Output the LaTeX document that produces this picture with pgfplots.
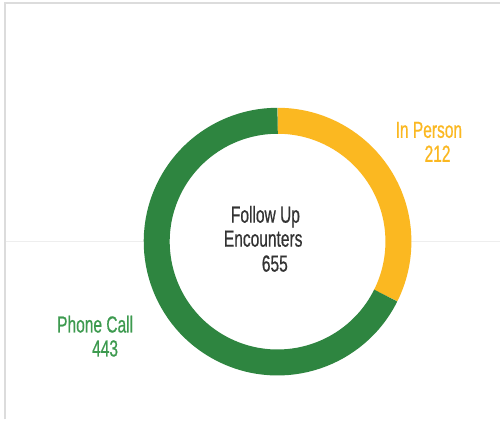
\documentclass[border=0pt]{standalone}
\usepackage{fontspec}
\usepackage{pgfplots}
\usepackage{pgfplotstable}
\pgfplotsset{compat=1.18}
\newfontfamily\cond[FakeStretch=0.67, FakeBold=0.6]{Liberation Sans}
\definecolor{cGreen}{HTML}{2E8540}
\definecolor{cGreenTxt}{HTML}{3D9A4F}
\definecolor{cYellow}{HTML}{FBB821}
\definecolor{cText}{HTML}{333333}
\definecolor{cBorder}{HTML}{DCDCDC}
\definecolor{cGrid}{HTML}{EEEEEE}

% follow up encounters by type
\pgfplotstableread{
label value
{In Person} 212
{Phone Call} 443
}\donutdata

\begin{document}
\begin{tikzpicture}
\pgfplotstablegetelem{0}{value}\of\donutdata \let\vIn\pgfplotsretval
\pgfplotstablegetelem{1}{value}\of\donutdata \let\vPhone\pgfplotsretval
\pgfmathsetmacro\vTotal{int(\vIn+\vPhone)}
\pgfmathsetmacro\aSplit{90-360*(\vIn/\vTotal)}
\def\rmid{3.025cm}% 121 px
\begin{axis}[
    x=0.025cm, y=0.025cm,
    xmin=0, xmax=501, ymin=0, ymax=420,
    y dir=reverse,
    hide axis, clip=false,
    font=\cond\fontsize{16.5}{19}\selectfont,
]
\fill[white] (axis cs:0,0) rectangle (axis cs:501,420);
% frame and centre rule
\draw[cBorder, line width=1.1pt] (axis cs:5,420) -- (axis cs:5,3) -- (axis cs:501,3);
\draw[cGrid, line width=0.8pt] (axis cs:6,242) -- (axis cs:144,242);
\draw[cGrid, line width=0.8pt] (axis cs:412,242) -- (axis cs:501,242);
% donut
\draw[cYellow, line width=0.65cm] ([shift={(90:\rmid)}]axis cs:278,242)
    arc[start angle=90, end angle=\aSplit, radius=\rmid];
\draw[cGreen, line width=0.65cm] ([shift={(\aSplit:\rmid)}]axis cs:278,242)
    arc[start angle=\aSplit, end angle=-270, radius=\rmid];
% labels
\node[anchor=base west, inner sep=0, text=cYellow] at (axis cs:396,138) {In Person};
\node[anchor=base west, inner sep=0, text=cYellow] at (axis cs:425,162) {\vIn};
\node[anchor=base west, inner sep=0, text=cGreenTxt] at (axis cs:57,333) {Phone Call};
\node[anchor=base west, inner sep=0, text=cGreenTxt] at (axis cs:92,357) {\vPhone};
\node[anchor=base west, inner sep=0, text=cText] at (axis cs:231,223) {Follow Up};
\node[anchor=base west, inner sep=0, text=cText] at (axis cs:224,247) {Encounters};
\node[anchor=base west, inner sep=0, text=cText] at (axis cs:262,272) {\vTotal};
\end{axis}
\end{tikzpicture}
\end{document}
